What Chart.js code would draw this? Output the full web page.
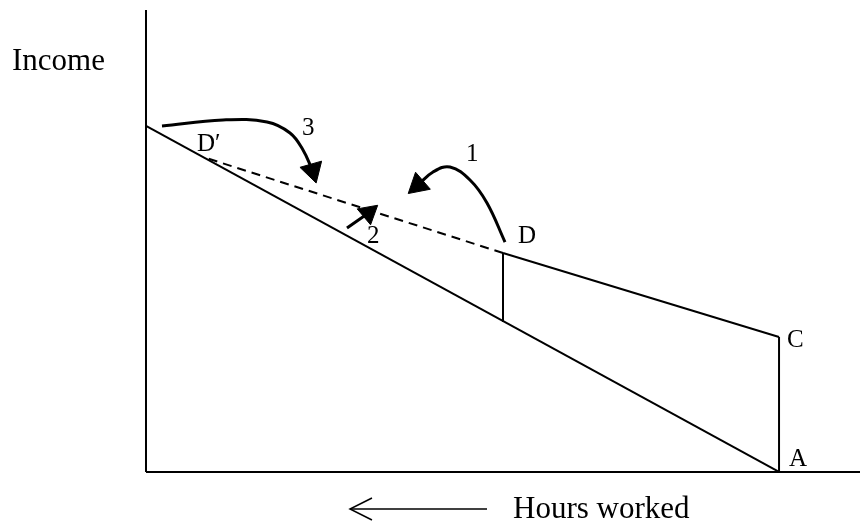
<!DOCTYPE html>
<html>
<head>
<meta charset="utf-8">
<script src="https://cdn.jsdelivr.net/npm/chart.js@4.4.1/dist/chart.umd.min.js"></script>
<style>
  body { margin: 0; background: #fff; }
  canvas { display: block; }
</style>
</head>
<body>
<canvas id="c" width="864" height="527"></canvas>
<script>
// Diagram data (x = hours units, y = income units)
const axisY = [{x: 0, y: 0}, {x: 0, y: 100}];
const axisX = [{x: 0, y: 0}, {x: 100, y: 0}];
const budgetLine = [{x: 0, y: 74.9}, {x: 88.66, y: 0}];       // original line to A
const segmentCA = [{x: 88.66, y: 0}, {x: 88.66, y: 29.22}];
const segmentCD = [{x: 88.66, y: 29.22}, {x: 50.0, y: 47.4}];
const dropAtD = [{x: 50.0, y: 47.4}, {x: 50.0, y: 32.47}];
const dashedDD = [{x: 50.0, y: 47.4}, {x: 7.98, y: 68.18}];   // D to D'

// curved arrows (last point = arrowhead)
const arrow1 = [{x: 50.28, y: 49.78}, {x: 47.76, y: 58.23}, {x: 45.38, y: 63.2}, {x: 42.58, y: 66.02}, {x: 40.2, y: 64.94}, {x: 38.1, y: 62.12}];
const arrow2 = [{x: 28.15, y: 52.81}, {x: 31.16, y: 56.06}];
const arrow3 = [{x: 2.24, y: 74.89}, {x: 10.78, y: 76.19}, {x: 16.95, y: 75.76}, {x: 20.17, y: 73.38}, {x: 21.99, y: 69.7}, {x: 23.33, y: 65.26}];
const headRotation = [229, 50, 164];

// "Hours worked" arrow below the axis
const hoursShaft = [{x: 28.57, y: -8.01}, {x: 47.76, y: -8.01}];
const hoursHead = [{x: 31.65, y: -5.63}, {x: 28.57, y: -8.01}, {x: 31.65, y: -10.39}];

// text labels
const labelText = ["Income", "D\u2032", "3", "1", "2", "D", "C", "A", "Hours worked"];
const labelX = [-18.77, 7.14, 21.85, 44.82, 30.95, 52.1, 89.78, 90.06, 51.4];
const labelY = [87.01, 69.48, 72.94, 67.32, 49.57, 49.57, 27.06, 1.3, -9.96];
const labelSize = [31, 25, 25, 25, 25, 25, 25, 25, 31];

function lineSet(data, width, dash) {
  return {
    data: data,
    showLine: true,
    borderColor: "#000",
    borderWidth: width,
    borderDash: dash || [],
    pointRadius: 0,
    fill: false,
    tension: 0
  };
}

function arrowSet(data, rot, size) {
  const n = data.length;
  return {
    data: data,
    showLine: true,
    borderColor: "#000",
    backgroundColor: "#000",
    borderWidth: 3,
    tension: 0.4,
    pointStyle: "triangle",
    pointRadius: data.map((p, i) => i === n - 1 ? size : 0),
    pointRotation: rot,
    pointBorderWidth: 1,
    fill: false
  };
}

const labelPlugin = {
  id: "labels",
  afterDatasetsDraw(chart) {
    const ctx = chart.ctx;
    const xs = chart.scales.x, ys = chart.scales.y;
    ctx.save();
    ctx.fillStyle = "#000";
    ctx.textAlign = "left";
    ctx.textBaseline = "alphabetic";
    labelText.forEach((t, i) => {
      ctx.font = labelSize[i] + "px 'Liberation Serif', 'Times New Roman', serif";
      ctx.fillText(t, xs.getPixelForValue(labelX[i]), ys.getPixelForValue(labelY[i]));
    });
    ctx.restore();
  }
};

new Chart(document.getElementById("c").getContext("2d"), {
  type: "scatter",
  data: {
    datasets: [
      lineSet(axisY, 2),
      lineSet(axisX, 2),
      lineSet(budgetLine, 2),
      lineSet(segmentCA, 2),
      lineSet(segmentCD, 2),
      lineSet(dropAtD, 2),
      lineSet(dashedDD, 2, [9, 6]),
      arrowSet(arrow1, headRotation[0], 13),
      arrowSet(arrow2, headRotation[1], 12),
      arrowSet(arrow3, headRotation[2], 13),
      lineSet(hoursShaft, 1.5),
      lineSet(hoursHead, 1.5)
    ]
  },
  options: {
    responsive: false,
    animation: false,
    layout: { padding: 0, autoPadding: false },
    plugins: { legend: { display: false }, tooltip: { enabled: false } },
    scales: {
      x: { type: "linear", display: false, min: -20.448, max: 100.56 },
      y: { type: "linear", display: false, min: -11.905, max: 102.16 }
    }
  },
  plugins: [labelPlugin]
});
</script>
</body>
</html>
